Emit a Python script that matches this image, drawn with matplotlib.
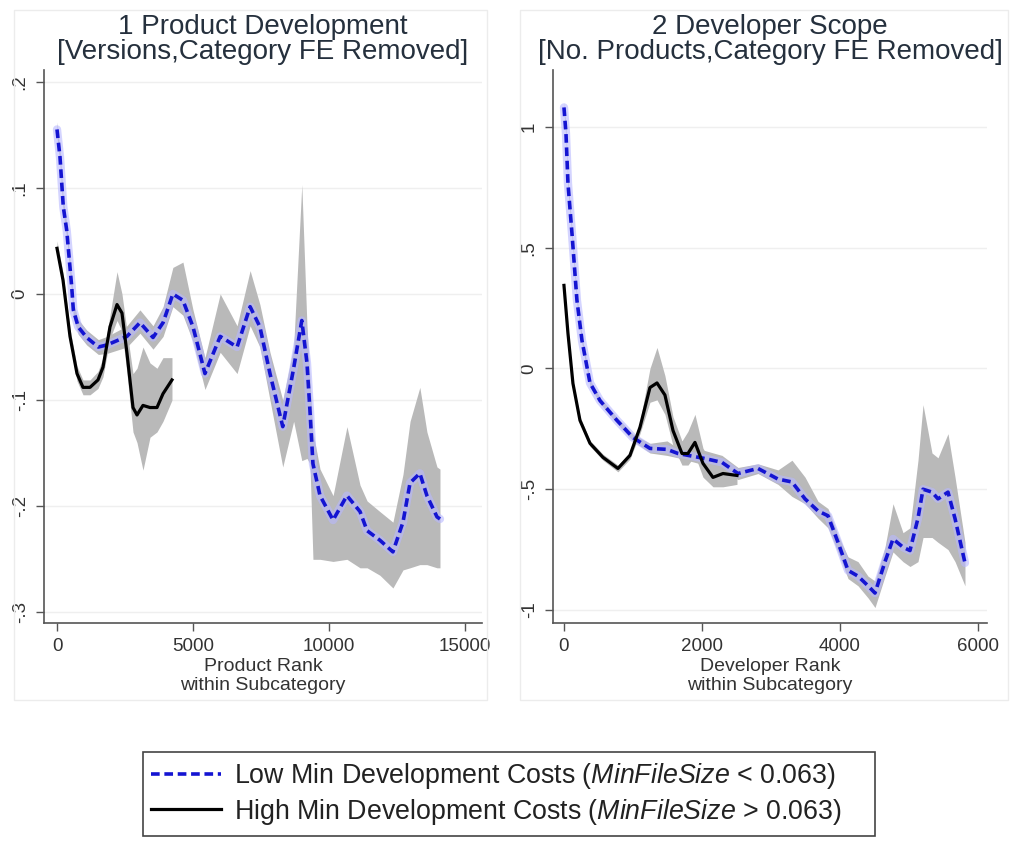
import numpy as np
import matplotlib
matplotlib.use("Agg")
import matplotlib.pyplot as plt
from matplotlib.patches import Rectangle

plt.rcParams['font.family'] = ['Liberation Sans', 'DejaVu Sans']
plt.rcParams['mathtext.fontset'] = 'custom'
plt.rcParams['mathtext.rm'] = 'Liberation Sans'
plt.rcParams['mathtext.it'] = 'Liberation Sans:italic'

# ---- Panel 1: product development (versions) ----
p1_low_x = [0, 110, 232, 357, 540, 600, 780, 1090, 1520, 1840, 2570, 3050, 3530, 3900,
            4260, 4630, 5000, 5440, 6000, 6620, 7100, 7460, 7830, 8300, 8700, 9000,
            9190, 9300, 9410, 9670, 10150, 10660, 11140, 11400, 11870, 12350, 12720,
            12980, 13340, 13600, 13970, 14080]
p1_low_y = [0.155, 0.129, 0.082, 0.060, 0.007, -0.015, -0.031, -0.041, -0.050, -0.048,
            -0.040, -0.027, -0.041, -0.027, 0.000, -0.006, -0.031, -0.075, -0.040,
            -0.050, -0.012, -0.031, -0.075, -0.125, -0.070, -0.025, -0.065, -0.110,
            -0.160, -0.190, -0.213, -0.190, -0.205, -0.223, -0.232, -0.243, -0.215,
            -0.178, -0.169, -0.190, -0.210, -0.212]
p1_low_lo = [0.148, 0.122, 0.075, 0.053, 0.000, -0.022, -0.038, -0.048, -0.057, -0.056,
             -0.050, -0.037, -0.052, -0.040, -0.012, -0.020, -0.045, -0.090, -0.055,
             -0.075, -0.030, -0.050, -0.100, -0.163, -0.120, -0.157, -0.155, -0.160,
             -0.250, -0.250, -0.252, -0.250, -0.258, -0.258, -0.265, -0.277, -0.260,
             -0.258, -0.255, -0.255, -0.258, -0.258]
p1_low_hi = [0.162, 0.136, 0.089, 0.067, 0.014, -0.008, -0.024, -0.034, -0.043, -0.040,
             -0.030, -0.015, -0.030, -0.012, 0.025, 0.030, -0.015, -0.060, 0.000,
             -0.030, 0.022, -0.010, -0.055, -0.100, -0.050, 0.103, -0.030, -0.080,
             -0.130, -0.165, -0.190, -0.125, -0.180, -0.195, -0.205, -0.215, -0.170,
             -0.120, -0.088, -0.130, -0.163, -0.165]

p1_high_x = [0, 221, 478, 735, 956, 1213, 1507, 1691, 1948, 2206, 2389, 2573, 2794,
             2941, 3161, 3419, 3676, 3897, 4227]
p1_high_y = [0.043, 0.013, -0.040, -0.075, -0.088, -0.088, -0.081, -0.069, -0.031,
             -0.010, -0.018, -0.056, -0.107, -0.114, -0.105, -0.107, -0.107, -0.094,
             -0.081]
p1_high_lo = [0.036, 0.006, -0.047, -0.082, -0.095, -0.095, -0.089, -0.078, -0.042,
              -0.025, -0.035, -0.075, -0.130, -0.140, -0.166, -0.135, -0.130, -0.120,
              -0.100]
p1_high_hi = [0.050, 0.020, -0.033, -0.068, -0.081, -0.081, -0.073, -0.060, -0.020,
              0.021, 0.000, -0.035, -0.075, -0.070, -0.050, -0.065, -0.070, -0.060,
              -0.060]

# ---- Panel 2: developer scope (no. products) ----
p2_low_x = [0, 29, 58, 116, 188, 261, 377, 522, 768, 1000, 1246, 1493, 1652, 2043,
            2290, 2522, 2811, 3101, 3304, 3493, 3681, 3826, 3971, 4116, 4261, 4406,
            4507, 4652, 4768, 4913, 5014, 5130, 5203, 5333, 5420, 5565, 5667, 5811]
p2_low_y = [1.081, 0.973, 0.766, 0.559, 0.282, 0.116, -0.060, -0.133, -0.215, -0.286,
            -0.331, -0.335, -0.352, -0.373, -0.389, -0.435, -0.414, -0.458, -0.470,
            -0.540, -0.590, -0.610, -0.720, -0.836, -0.860, -0.900, -0.930, -0.800,
            -0.706, -0.740, -0.754, -0.620, -0.500, -0.512, -0.540, -0.512, -0.622,
            -0.805]
p2_low_lo = [1.060, 0.950, 0.745, 0.540, 0.265, 0.100, -0.075, -0.145, -0.228, -0.300,
             -0.350, -0.360, -0.370, -0.400, -0.420, -0.460, -0.435, -0.480, -0.530,
             -0.560, -0.620, -0.660, -0.760, -0.870, -0.900, -0.950, -0.990, -0.860,
             -0.760, -0.800, -0.820, -0.800, -0.700, -0.700, -0.720, -0.750, -0.800,
             -0.900]
p2_low_hi = [1.100, 0.995, 0.787, 0.580, 0.300, 0.132, -0.045, -0.120, -0.202, -0.272,
             -0.310, -0.300, -0.330, -0.340, -0.360, -0.410, -0.395, -0.420, -0.380,
             -0.450, -0.550, -0.580, -0.690, -0.780, -0.800, -0.860, -0.880, -0.740,
             -0.560, -0.680, -0.660, -0.380, -0.150, -0.350, -0.370, -0.270, -0.450,
             -0.720]

p2_high_x = [0, 58, 130, 232, 377, 565, 782, 956, 1101, 1246, 1348, 1463, 1580, 1710,
             1797, 1898, 2014, 2159, 2304, 2507]
p2_high_y = [0.344, 0.145, -0.062, -0.215, -0.310, -0.368, -0.414, -0.360, -0.244,
             -0.079, -0.060, -0.110, -0.257, -0.352, -0.352, -0.306, -0.393, -0.451,
             -0.435, -0.443]
p2_high_lo = [0.330, 0.130, -0.075, -0.228, -0.322, -0.380, -0.428, -0.375, -0.270,
              -0.140, -0.130, -0.190, -0.320, -0.400, -0.400, -0.360, -0.450, -0.490,
              -0.490, -0.480]
p2_high_hi = [0.360, 0.160, -0.050, -0.200, -0.298, -0.355, -0.400, -0.345, -0.220,
              0.000, 0.087, -0.030, -0.200, -0.300, -0.260, -0.190, -0.330, -0.400,
              -0.390, -0.410]

p1_xticks = [0, 5000, 10000, 15000]
p1_yticks = [-0.3, -0.2, -0.1, 0, 0.1, 0.2]
p1_ylabels = ["-.3", "-.2", "-.1", "0", ".1", ".2"]
p2_xticks = [0, 2000, 4000, 6000]
p2_yticks = [-1, -0.5, 0, 0.5, 1]
p2_ylabels = ["-1", "-.5", "0", ".5", "1"]

titles = ["1 Product Development\n[Versions,Category FE Removed]",
          "2 Developer Scope\n[No. Products,Category FE Removed]"]
xlabels = ["Product Rank\nwithin Subcategory", "Developer Rank\nwithin Subcategory"]
legend_labels = [r"Low Min Development Costs ($\mathit{MinFileSize}$ < 0.063)",
                 r"High Min Development Costs ($\mathit{MinFileSize}$ > 0.063)"]

BAND = '#b9b9b9'
BLUE = '#1414d2'
AXC = '#555555'
TXT = '#333333'

fig = plt.figure(figsize=(10.13, 8.46), dpi=100)
fig.patch.set_facecolor('white')

# faint outer frames like the stata graph regions
for x0, w in [(14 / 1013, 473 / 1013), (520 / 1013, 488 / 1013)]:
    fig.patches.append(Rectangle((x0, 146 / 846), w, 690 / 846, transform=fig.transFigure,
                                 fill=False, edgecolor='#ececec', lw=1))

ax1 = fig.add_axes([44 / 1013, 223 / 846, 438 / 1013, 553 / 846])
ax2 = fig.add_axes([553 / 1013, 223 / 846, 434 / 1013, 553 / 846])

panels = [
    (ax1, p1_low_x, p1_low_y, p1_low_lo, p1_low_hi, p1_high_x, p1_high_y, p1_high_lo,
     p1_high_hi, p1_xticks, p1_yticks, p1_ylabels, (-478, 15625), (-0.31, 0.211)),
    (ax2, p2_low_x, p2_low_y, p2_low_lo, p2_low_hi, p2_high_x, p2_high_y, p2_high_lo,
     p2_high_hi, p2_xticks, p2_yticks, p2_ylabels, (-159, 6130), (-1.054, 1.236)),
]

handles = []
for i, (ax, lx, ly, llo, lhi, hx, hy, hlo, hhi, xt, yt, ylab, xl, yl) in enumerate(panels):
    ax.fill_between(lx, llo, lhi, color=BAND, lw=0, zorder=1)
    ax.fill_between(hx, hlo, hhi, color=BAND, lw=0, zorder=1)
    ax.plot(lx, ly, color='#b8b8ff', lw=6, alpha=0.6, zorder=2, solid_capstyle='round')
    l1, = ax.plot(lx, ly, color=BLUE, lw=2.6, dashes=(2.4, 1.3), zorder=3)
    l2, = ax.plot(hx, hy, color='black', lw=2.3, zorder=4)
    if i == 0:
        handles = [l1, l2]

    ax.set_xlim(*xl)
    ax.set_ylim(*yl)
    ax.set_xticks(xt)
    ax.set_yticks(yt)
    ax.set_yticklabels(ylab, rotation=90, va='center')
    ax.tick_params(axis='both', direction='out', length=6, width=1, color=AXC,
                   labelsize=13.5, labelcolor=TXT, pad=5)
    ax.grid(axis='y', color='#efefef', lw=1)
    ax.set_axisbelow(True)
    for s in ['top', 'right']:
        ax.spines[s].set_visible(False)
    for s in ['left', 'bottom']:
        ax.spines[s].set_color(AXC)
        ax.spines[s].set_linewidth(1.2)
    ax.set_title(titles[i], fontsize=20, color='#25303d', pad=8, linespacing=0.95)
    ax.set_xlabel(xlabels[i], fontsize=14, color=TXT, labelpad=2, linespacing=1.15)

# legend box (wider than its content, as in the original)
fig.patches.append(Rectangle((143 / 1013, 10 / 846), 732 / 1013, 84 / 846,
                             transform=fig.transFigure, fill=False,
                             edgecolor='#444444', lw=1.2))
leg = fig.legend(handles, legend_labels, loc='center left',
                 bbox_to_anchor=(143 / 1013, 52 / 846), ncol=1, fontsize=19.3,
                 frameon=False, handlelength=2.6, handletextpad=0.5, borderpad=0.3,
                 labelspacing=0.2, borderaxespad=0)
for t in leg.get_texts():
    t.set_color('#222222')

fig.savefig("out.png", dpi=100, facecolor='white')
